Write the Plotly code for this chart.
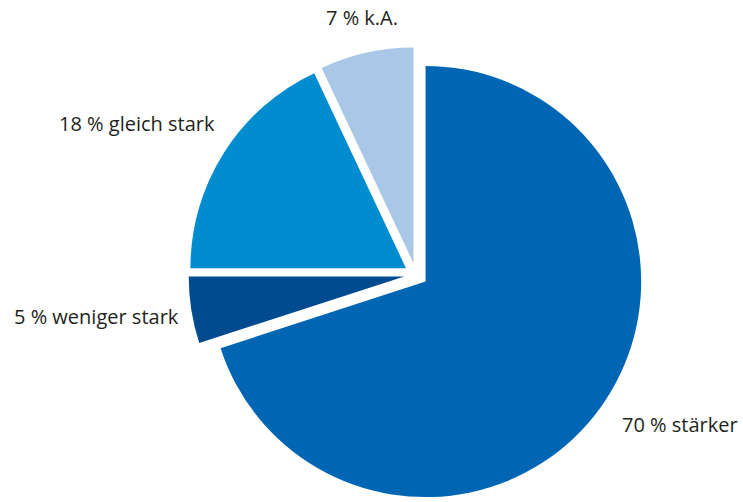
import plotly.graph_objects as go

categories = ["stärker", "weniger stark", "gleich stark", "k.A."]
values = [70, 5, 18, 7]
colors = ["#0066B3", "#004A8F", "#008DD0", "#A9C8E8"]
pulls = [0.055, 0.055, 0.055, 0.055]

W, H = 743, 502
# label positions (pixel centers)
label_pos = [(680, 424), (96, 316), (137, 123), (362, 18)]

cx, cy, R = 416, 275, 216
half = R * (1 + max(pulls))

fig = go.Figure(go.Pie(
    labels=categories,
    values=values,
    sort=False,
    direction="clockwise",
    rotation=0,
    pull=pulls,
    marker=dict(colors=colors, line=dict(color="white", width=0)),
    textinfo="none",
    hoverinfo="label+percent",
    showlegend=False,
    domain=dict(x=[max(0, (cx - half) / W), min(1, (cx + half) / W)],
                y=[max(0, (H - cy - half) / H), min(1, (H - cy + half) / H)]),
))

annotations = []
for cat, val, (px, py) in zip(categories, values, label_pos):
    annotations.append(dict(
        text=f"{val} % {cat}",
        x=px / W, y=1 - py / H, xref="paper", yref="paper",
        xanchor="center", yanchor="middle", showarrow=False,
        font=dict(family="Open Sans", size=20, color="#231f20"),
    ))

fig.update_layout(
    width=W, height=H,
    margin=dict(l=0, r=0, t=0, b=0),
    paper_bgcolor="white", plot_bgcolor="white",
    annotations=annotations,
)

fig.write_html(
    "out.html",
    config={"displayModeBar": False},
    post_script="document.body.style.margin='0';document.body.style.overflow='hidden';",
)
